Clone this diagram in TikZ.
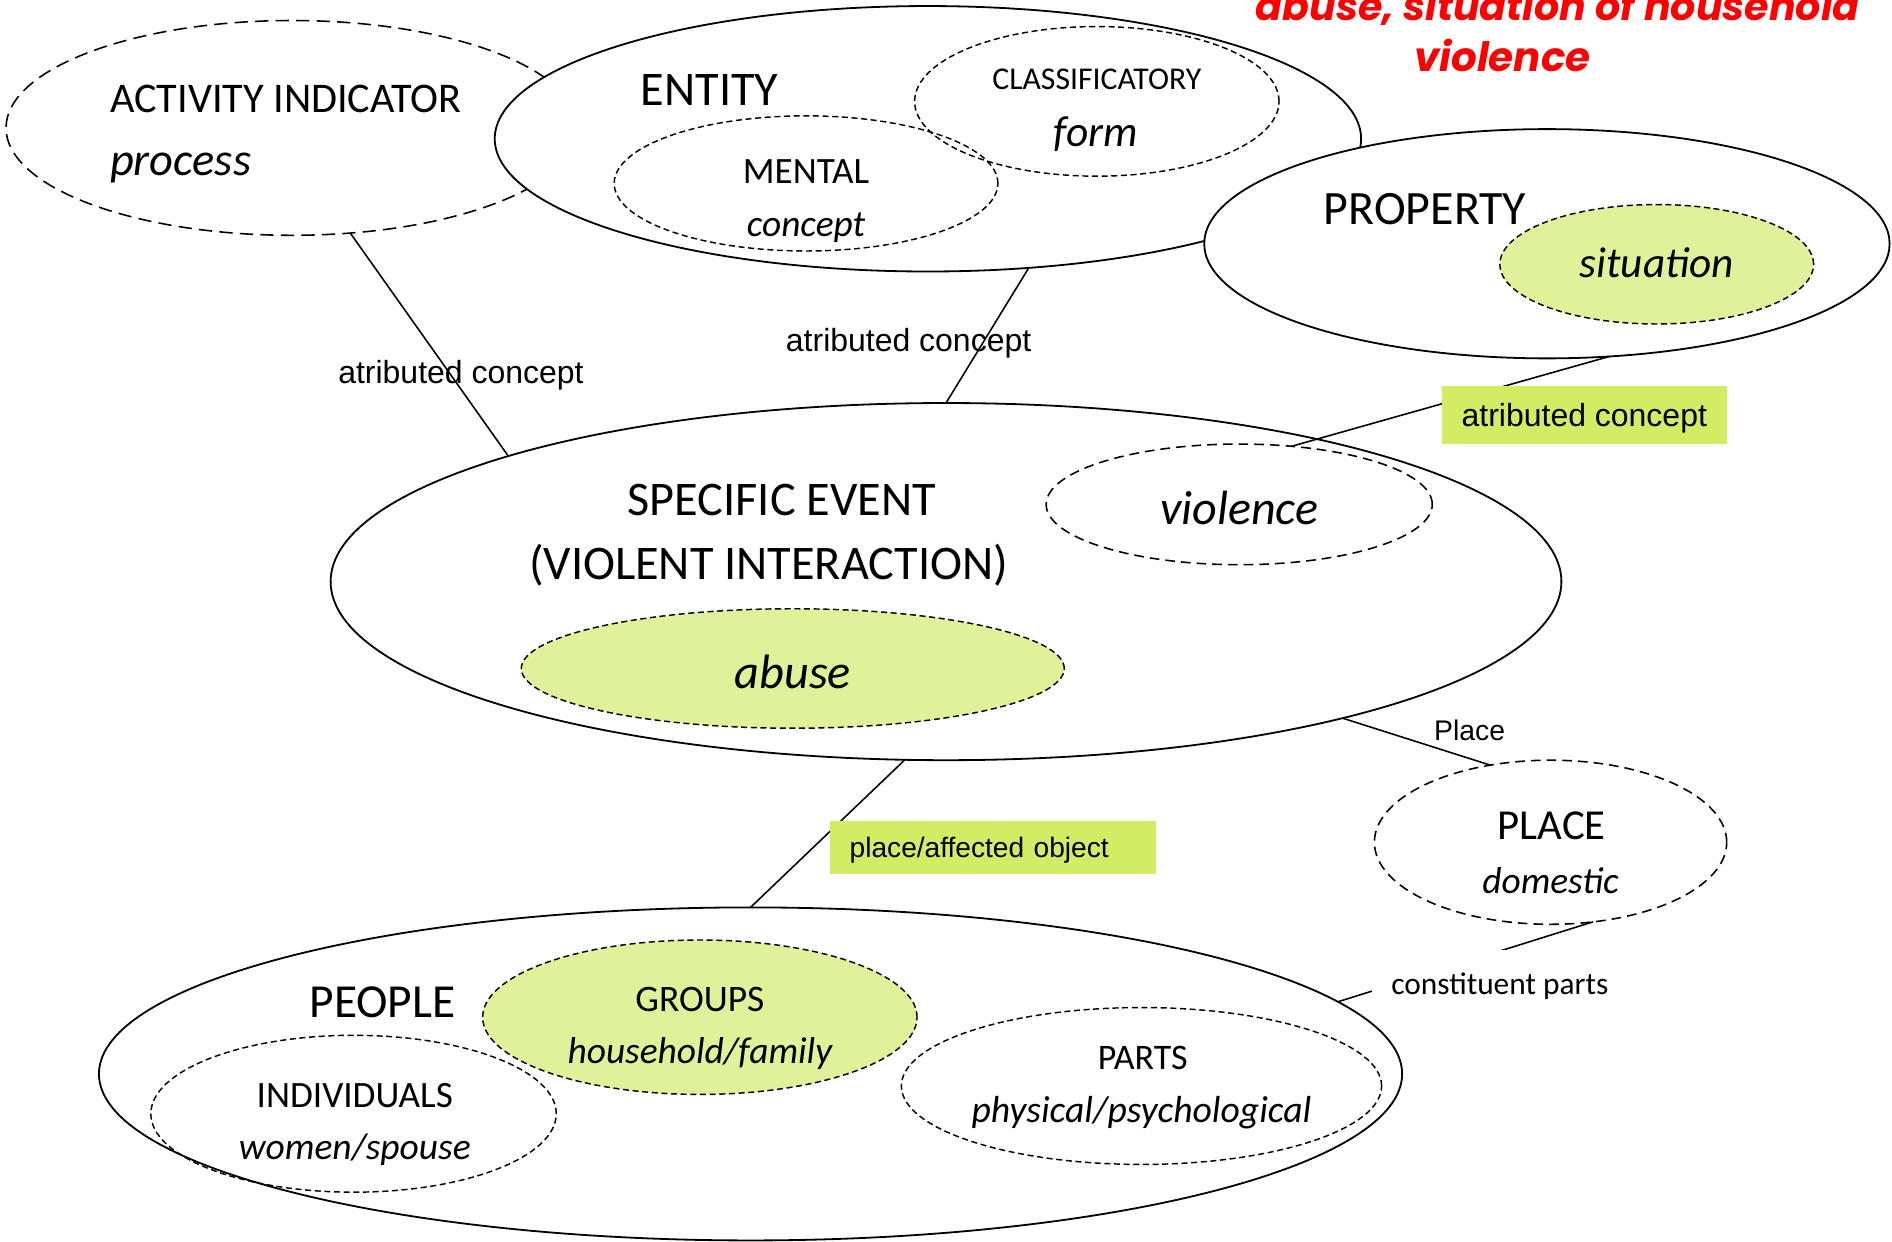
\documentclass[tikz,border=0pt]{standalone}
\usepackage{fontspec}
\setmainfont{Carlito}
\newfontfamily\arialf{Liberation Sans}
\newfontfamily\titlef{Poppins}
\usetikzlibrary{shapes.geometric}
\definecolor{lightgreen}{HTML}{E0F299}
\definecolor{boxgreen}{HTML}{D2EC63}
\begin{document}
\begin{tikzpicture}[x=1pt,y=-1pt,
  ell/.style={ellipse, inner sep=0pt, outer sep=0pt},
  solidell/.style={ell, draw, line width=1.5pt, fill=white},
  longdash/.style={ell, draw, line width=1.3pt, dash pattern=on 11pt off 6pt},
  middash/.style={ell, draw, line width=1.3pt, dash pattern=on 8pt off 5pt},
  shortdash/.style={ell, draw, line width=1.2pt, dash pattern=on 5pt off 3pt},
  greenfill/.style={fill=lightgreen},
  conn/.style={line width=1.3pt},
  txt/.style={inner sep=0pt},
  fs/.style={font=\fontsize{#1}{#1}\selectfont},
  fi/.style={font=\fontsize{#1}{#1}\selectfont\itshape},
  lab/.style={inner sep=0pt, text depth=0pt, font=\arialf\fontsize{#1}{#1}\selectfont},
  titlestyle/.style={txt, anchor=base, text=red, font=\titlef\bfseries\itshape\fontsize{#1}{#1}\selectfont},
]
\useasboundingbox (0,0) rectangle (1568,1029);

% title
\node[titlestyle=32.8] (title1) at (1291,17) {abuse, situation of household};
\node[titlestyle=33.5] (title2) at (1245,59) {violence};

% ellipses
\node[longdash, fill=white, minimum width=474pt, minimum height=178pt] (activity) at (242,106) {};
\node[solidell, minimum width=718pt, minimum height=220pt] (entity) at (769,115) {};
\node[shortdash, minimum width=302pt, minimum height=124pt] (classif) at (909,84) {};
\node[shortdash, minimum width=318pt, minimum height=112pt] (mental) at (668,152) {};
\node[solidell, minimum width=568pt, minimum height=190pt] (property) at (1282,202) {};
\node[shortdash, greenfill, minimum width=260pt, minimum height=99pt] (situation) at (1373,219) {};
\node[solidell, minimum width=1020pt, minimum height=296pt] (specific) at (784,482) {};
\node[middash, minimum width=320pt, minimum height=100pt] (violence) at (1027,418) {};
\node[shortdash, greenfill, minimum width=450pt, minimum height=99pt] (abuse) at (657,554) {};
\node[middash, minimum width=292pt, minimum height=136pt] (place) at (1285,698) {};
\node[solidell, minimum width=1080pt, minimum height=276pt] (people) at (622,890) {};
\node[shortdash, minimum width=336pt, minimum height=130pt] (individuals) at (293,923) {};
\node[shortdash, greenfill, minimum width=360pt, minimum height=128pt] (groups) at (580,843) {};
\node[shortdash, minimum width=398pt, minimum height=130pt] (parts) at (946,900) {};

% texts
\node[txt, fs=35, anchor=west] (tact) at (91,82) {ACTIVITY INDICATOR};
\node[txt, fi=38.5, anchor=west] (tproc) at (91,139) {process};
\node[txt, fs=40] (tent) at (588,75) {ENTITY};
\node[txt, fs=26.3] (tcla) at (909,66) {CLASSIFICATORY};
\node[txt, fi=36] (tform) at (908,111) {form};
\node[txt, fs=30.8] (tmen) at (668,142) {MENTAL};
\node[txt, fi=31] (tcon) at (668,189) {concept};
\node[txt, fs=39.7] (tprop) at (1181,173) {PROPERTY};
\node[txt, fi=35.8] (tsit) at (1373,218) {situation};
\node[txt, fs=40] (tspec) at (648,414) {SPECIFIC EVENT};
\node[txt, fs=40] (tviol) at (637,468) {(VIOLENT INTERACTION)};
\node[txt, fi=39.8] (tvio) at (1027,421) {violence};
\node[txt, fi=40] (tabu) at (657,557) {abuse};
\node[txt, fs=35.4] (tplace) at (1286,684) {PLACE};
\node[txt, fi=31] (tdom) at (1285,730) {domestic};
\node[txt, fs=39.3] (tpeo) at (317,831) {PEOPLE};
\node[txt, fs=31] (tgro) at (580,828) {GROUPS};
\node[txt, fi=31] (thou) at (580,873) {household/family};
\node[txt, fs=30.8] (tind) at (294,908) {INDIVIDUALS};
\node[txt, fi=31.1] (twom) at (294,953) {women/spouse};
\node[txt, fs=29.8] (tpar) at (947,877) {PARTS};
\node[txt, fi=31.2] (tphy) at (946,922) {physical/psychological};

% connectors
\draw[conn] (activity.-61.7) -- (specific.164.7);
\draw[conn] (entity.-52.4) -- (specific.90);
\draw[conn] (property.-61) -- (violence.48);
\draw[conn] (specific.-19.5) -- (place.128);
\draw[conn] (specific.-103.7) -- (people.90);
\draw[conn] (place.-62) -- (people.7.5);

% connector labels
\node[lab=26.5] (l1) at (382,308) {atributed concept};
\node[lab=26.5] (l2) at (753,282) {atributed concept};
\node[lab=26.5, fill=boxgreen, minimum width=236pt, minimum height=48pt] (l3) at (1313,344) {atributed concept};
\node[lab=23.5] (l4) at (1218,605) {Place};
\node[lab=23.3, fill=boxgreen, anchor=west, minimum height=44pt, inner xsep=16pt, text width=238pt, align=left] (l5) at (688,702) {place/affected object};
\node[txt, fs=26, text depth=0pt, fill=white, inner xsep=16pt, minimum height=56pt] (l6) at (1243,815) {constituent parts};
\end{tikzpicture}
\end{document}
